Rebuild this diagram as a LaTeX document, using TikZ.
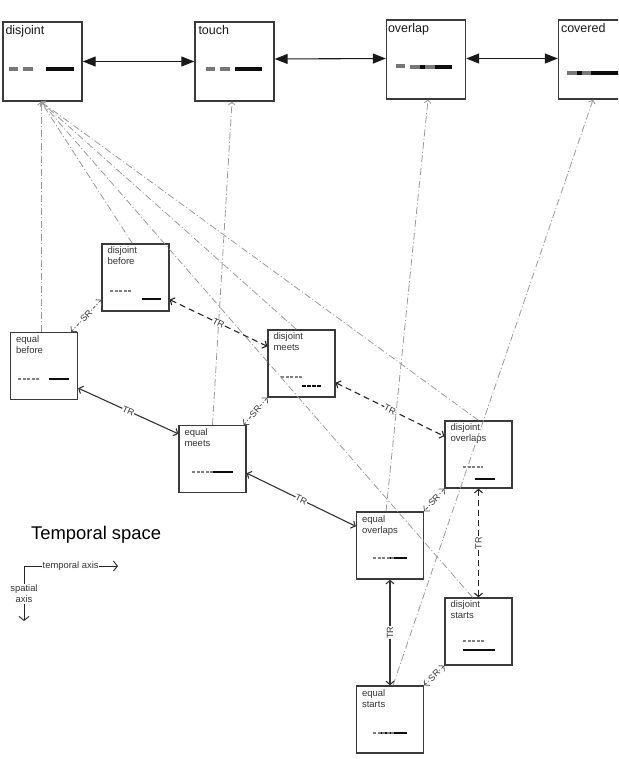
\documentclass[tikz,border=0pt]{standalone}
\usepackage{fontspec}
\setmainfont{Liberation Sans}
\usetikzlibrary{arrows.meta,calc}
\definecolor{boxgray}{HTML}{3A3A3A}
\definecolor{fangray}{HTML}{999999}
\definecolor{srgray}{HTML}{555555}
\definecolor{dashgray}{HTML}{808080}
\definecolor{bargray}{HTML}{777777}
\begin{document}
\begin{tikzpicture}[x=1pt,y=-1pt,
  topbox/.style={draw=boxgray,line width=1.4pt,minimum width=79pt,minimum height=79pt,inner sep=0pt},
  midbox/.style={draw=boxgray,line width=1.3pt,minimum width=67pt,minimum height=67pt,inner sep=0pt},
  toplabel/.style={anchor=north west,inner sep=0pt,font=\fontsize{12.5}{14}\selectfont,text=black!90},
  midlabel/.style={anchor=north west,inner sep=0pt,align=left,font=\fontsize{9.5}{11}\selectfont,text=black!80},
  toparrow/.style={draw=black!90,line width=1.1pt,{Triangle[length=13pt,width=10pt]}-{Triangle[length=13pt,width=10pt]}},
  fan/.style={draw=fangray,line width=0.8pt,dash pattern=on 7pt off 2.5pt on 1pt off 2.5pt,-{Straight Barb[length=3pt,width=7pt]}},
  srline/.style={draw=srgray,line width=0.8pt,dash pattern=on 3pt off 2pt on 1pt off 2pt,{Straight Barb[length=3.5pt,width=8pt]}-{Straight Barb[length=3.5pt,width=8pt]}},
  trdash/.style={draw=black!85,line width=1.1pt,dash pattern=on 6pt off 4pt,{Straight Barb[length=3.5pt,width=8pt]}-{Straight Barb[length=3.5pt,width=8pt]}},
  trsolid/.style={draw=black!80,line width=1.1pt,{Straight Barb[length=3.5pt,width=8pt]}-{Straight Barb[length=3.5pt,width=8pt]}},
  lbl/.style={font=\fontsize{9}{9}\selectfont,fill=white,inner sep=0.3pt,text=black!80},
  tgrey/.style={draw=bargray,line width=4pt},
  tblack/.style={draw=black!95,line width=4pt},
  mdash/.style={draw=dashgray,line width=1.1pt,dash pattern=on 3pt off 1.6pt},
  mbar/.style={draw=black!95,line width=1.8pt},
  mbard/.style={draw=black!95,line width=2pt,dash pattern=on 3.5pt off 1.5pt},
  axline/.style={draw=black!85,line width=0.9pt},
  axlbl/.style={inner sep=0.5pt,font=\fontsize{9.4}{11}\selectfont,text=black!80}
]
\useasboundingbox (0,0) rectangle (618,759);
\clip (0,0) rectangle (618,759);

% ---------- top boxes ----------
\node[topbox] (disjoint) at (42.5,61.5) {};
\node[topbox] (touch) at (234.5,61.5) {};
\node[topbox] (overlap) at (426,59.5) {};
\node[topbox] (covered) at (598,59.5) {};
\node[toplabel] (disjointL) at ($(disjoint.north west)+(3,3.5)$) {disjoint};
\node[toplabel] (touchL) at ($(touch.north west)+(4,3.5)$) {touch};
\node[toplabel] (overlapL) at ($(overlap.north west)+(2,3.5)$) {overlap};
\node[toplabel] (coveredL) at ($(covered.north west)+(3,3.5)$) {covered};

% top box bars
\draw[tgrey] (9,69) -- (18,69);
\draw[tgrey] (23,69) -- (33,69);
\draw[tblack] (46,69) -- (74,69);
\draw[tgrey] (206,69) -- (215,69);
\draw[tgrey] (220,69) -- (230,69);
\draw[tblack] (235,69) -- (262,69);
\draw[tgrey] (396,66) -- (405,66);
\draw[tgrey] (410,67) -- (420,67);
\draw[tblack] (420,67) -- (425,67);
\draw[tgrey] (425,67) -- (435,67);
\draw[tblack] (435,67) -- (452,67);
\draw[tgrey] (567,73) -- (577,73);
\draw[tblack] (577,73) -- (582,73);
\draw[tgrey] (582,73) -- (591,73);
\draw[tblack] (591,73) -- (640,73);

% top arrows
\draw[toparrow] (disjoint.east) -- (touch.west);
\draw[toparrow] ($(touch.east)+(0,-2.5)$) -- ($(overlap.west)+(0,-1)$);
\draw[toparrow] ($(overlap.east)+(0,-1)$) -- ($(covered.west)+(0,-1)$);

% ---------- middle boxes ----------
\node[midbox] (db) at (135.5,277.5) {};
\node[midbox] (eb) at (44,366) {};
\node[midbox] (dm) at (301.5,363.5) {};
\node[midbox] (em) at (212.5,459) {};
\node[midbox] (do) at (478.5,454.5) {};
\node[midbox] (eo) at (390,545.5) {};
\node[midbox] (ds) at (478.5,631.5) {};
\node[midbox] (es) at (390,719.5) {};

\node[midlabel] (dbL) at ($(db.north west)+(6,3.5)$) {disjoint\\before};
\node[midlabel] (ebL) at ($(eb.north west)+(6,4)$) {equal\\before};
\node[midlabel] (dmL) at ($(dm.north west)+(6,3.5)$) {disjoint\\meets};
\node[midlabel] (emL) at ($(em.north west)+(6,4)$) {equal\\meets};
\node[midlabel] (doL) at ($(do.north west)+(6,3.5)$) {disjoint\\overlaps};
\node[midlabel] (eoL) at ($(eo.north west)+(6,4)$) {equal\\overlaps};
\node[midlabel] (dsL) at ($(ds.north west)+(6,3.5)$) {disjoint\\starts};
\node[midlabel] (esL) at ($(es.north west)+(6,4)$) {equal\\starts};

% middle box bars
\draw[mdash] (110,291) -- (131,291);
\draw[mbar] (142,299) -- (161,299);
\draw[mdash] (18,379) -- (39,379);
\draw[mbar] (49,379) -- (69,379);
\draw[mdash] (281,377) -- (302,377);
\draw[mbard] (302,386) -- (322,386);
\draw[mdash] (192,472) -- (213,472);
\draw[mbar] (213,472) -- (233,472);
\draw[mdash] (463,467) -- (483,467);
\draw[mbar] (475,479) -- (495,479);
\draw[mbar] (388,558) -- (407,558);
\draw[mdash] (373,558) -- (394,558);
\draw[mdash] (463,641) -- (484,641);
\draw[mbar] (463,650) -- (495,650);
\draw[mbar] (381,733) -- (407,733);
\draw[mdash,line width=1.6pt] (373,733) -- (395,733);

% ---------- fan lines to top boxes ----------
\draw[fan] ($(eb.north)+(-3,0)$) -- ($(disjoint.south)+(-1.5,0)$);
\draw[fan] ($(db.north west)+(31,0)$) -- ($(disjoint.south)+(-1.5,0)$);
\draw[fan] ($(dm.north west)+(29,0)$) -- ($(disjoint.south)+(-1.5,0)$);
\draw[fan] (do.north) -- ($(disjoint.south)+(-1.5,0)$);
\draw[fan] ($(ds.north)+(-6,0)$) -- ($(disjoint.south)+(-1.5,0)$);
\draw[fan] ($(em.north)+(0,0)$) -- ($(touch.south)+(-2.5,0)$);
\draw[fan] ($(eo.north)+(-4,0)$) -- ($(overlap.south)+(2,0)$);
\draw[fan] ($(es.north)+(3,0)$) -- ($(covered.south)+(-5,0)$);

% ---------- SR connectors ----------
\draw[srline] ($(db.south west)+(0,-12)$) -- node[lbl,sloped] (sr1) {SR} ($(eb.north east)+(-7,0)$);
\draw[srline] (dm.south west) -- node[lbl,sloped] (sr2) {SR} ($(em.north east)+(-3,0)$);
\draw[srline] (do.south west) -- node[lbl,sloped] (sr3) {SR} (eo.north east);
\draw[srline] (ds.south west) -- node[lbl,sloped] (sr4) {SR} (es.north east);

% ---------- TR connectors ----------
\draw[trdash] ($(db.south east)+(0,-12)$) -- node[lbl,sloped] (tr1) {TR} ($(dm.north west)+(0,17)$);
\draw[trsolid] ($(eb.south east)+(0,-12)$) -- node[lbl,sloped] (tr2) {TR} ($(em.north west)+(0,9)$);
\draw[trdash] ($(dm.south east)+(0,-15)$) -- node[lbl,sloped] (tr3) {TR} ($(do.north west)+(0,16)$);
\draw[trsolid] ($(em.south east)+(0,-20)$) -- node[lbl,sloped] (tr4) {TR} ($(eo.north west)+(0,15)$);
\draw[trdash] (do.south) -- node[lbl,rotate=90] (tr5) {TR} (ds.north);
\draw[trsolid] (eo.south) -- node[lbl,rotate=90] (tr6) {TR} (es.north);

% ---------- legend ----------
\node[anchor=west,inner sep=0pt,font=\fontsize{18.4}{20}\selectfont] (title) at (31,535) {Temporal space};
\coordinate (axc) at (24,566);
\node[axlbl,anchor=west] (ta) at (42,566) {temporal axis};
\draw[axline] (axc) -- (ta.west);
\coordinate (tatip) at (118,566);
\draw[axline,-{Straight Barb[length=4pt,width=10pt]}] (ta.east) -- (tatip);
\node[axlbl,align=center] (sa) at (24,594) {spatial\\axis};
\draw[axline] (axc) -- (sa.north);
\coordinate (satip) at (24,621);
\draw[axline,-{Straight Barb[length=4pt,width=10pt]}] (sa.south) -- (satip);
\end{tikzpicture}
\end{document}
